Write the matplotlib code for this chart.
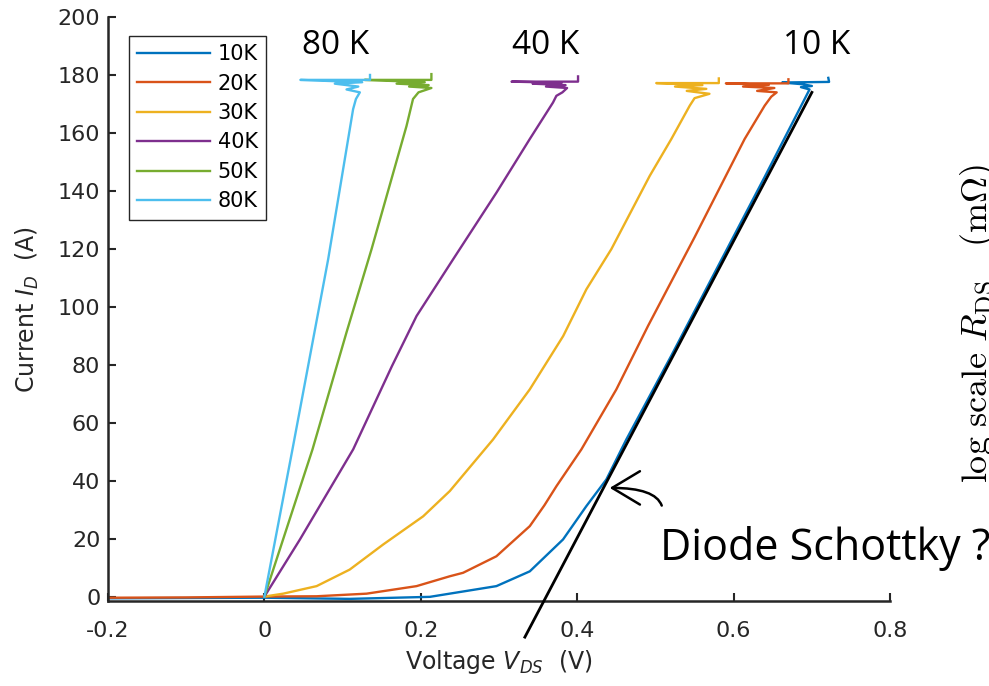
import matplotlib
matplotlib.use("Agg")
import matplotlib.pyplot as plt
from matplotlib.ticker import FormatStrFormatter

v10 = [-0.2, -0.1, 0.0, 0.109, 0.2115, 0.2966, 0.3393, 0.3818, 0.4116, 0.4372, 0.4627, 0.52, 0.58, 0.64,
       0.697, 0.686, 0.70, 0.688, 0.662, 0.722, 0.721]
i10 = [-0.6, -0.5, -0.4, -0.8, -0.1, 3.6, 8.7, 19.7, 31.2, 40.4, 54.2, 83.0, 114.0, 145.0,
       175.0, 175.8, 176.2, 176.8, 177.4, 177.6, 179.0]

v20 = [-0.2, -0.1, 0.0, 0.0667, 0.1306, 0.1945, 0.237, 0.254, 0.2966, 0.3393, 0.358, 0.3734, 0.4053, 0.45,
       0.4905, 0.55, 0.614, 0.6396, 0.648, 0.655, 0.63, 0.652, 0.612, 0.645, 0.59, 0.67, 0.67]
i20 = [-0.4, -0.3, 0.0, 0.1, 1.0, 3.6, 7.0, 8.2, 13.9, 24.3, 31.5, 38.1, 50.8, 71.5,
       93.4, 124.0, 157.9, 169.4, 172.5, 174.0, 174.5, 175.5, 176.0, 176.6, 177.1, 177.1, 178.5]

v30 = [0.0, 0.024, 0.0667, 0.109, 0.152, 0.203, 0.237, 0.2923, 0.3393, 0.382, 0.4116, 0.4436, 0.4927, 0.5203,
       0.5438, 0.55, 0.569, 0.54, 0.565, 0.525, 0.56, 0.501, 0.581, 0.581]
i30 = [0.0, 1.0, 3.6, 9.3, 18.0, 27.7, 36.4, 54.2, 71.5, 89.9, 106.0, 119.9, 145.2, 157.9,
       169.4, 172.0, 173.5, 174.5, 175.2, 176.0, 176.5, 177.2, 177.2, 178.8]

v40 = [0.0, 0.0454, 0.1135, 0.163, 0.1945, 0.2413, 0.2967, 0.3393, 0.369, 0.3733,
       0.381, 0.387, 0.36, 0.385, 0.343, 0.38, 0.316, 0.401, 0.401]
i40 = [0.0, 19.7, 50.8, 79.5, 96.8, 116.4, 139.4, 157.9, 170.5, 172.8,
       174.0, 175.5, 176.0, 176.5, 177.0, 177.3, 177.7, 177.7, 179.5]

v50 = [0.0, 0.0615, 0.105, 0.137, 0.1817, 0.19,
       0.197, 0.2135, 0.185, 0.21, 0.169, 0.205, 0.128, 0.2135, 0.2135]
i50 = [0.0, 50.8, 91.2, 119.9, 162.4, 171.7,
       174.0, 175.5, 176.0, 176.5, 177.0, 177.5, 178.3, 178.3, 180.3]

v80 = [0.0, 0.036, 0.0815, 0.1134, 0.117,
       0.122, 0.105, 0.12, 0.09, 0.125, 0.046, 0.135, 0.135]
i80 = [0.0, 51.0, 116.4, 168.2, 171.7,
       174.0, 175.0, 176.0, 177.0, 177.5, 178.3, 178.3, 180.0]

labels = ["10K", "20K", "30K", "40K", "50K", "80K"]
colors = ["#0072BD", "#D95319", "#EDB120", "#7E2F8E", "#77AC30", "#4DBEEE"]

# linear fit line drawn over the 10 K curve
fit_v = [0.333, 0.700]
fit_i = [-14.0, 174.0]

dark = "#262626"

fig = plt.figure(figsize=(9.89, 6.86), dpi=100)
ax = fig.add_axes([0.1092, 0.1232, 0.7908, 0.852])

curves = [(v10, i10), (v20, i20), (v30, i30), (v40, i40), (v50, i50), (v80, i80)]
for (v, i), lab, c in zip(curves, labels, colors):
    ax.plot(v, i, color=c, lw=1.7, label=lab)

ax.plot(fit_v, fit_i, color="black", lw=2, clip_on=False, zorder=5)

ax.set_xlim(-0.2, 0.8)
ax.set_ylim(-1.7, 200)
ax.set_xticks([-0.2, 0, 0.2, 0.4, 0.6, 0.8])
ax.set_yticks(range(0, 201, 20))
ax.xaxis.set_major_formatter(FormatStrFormatter("%g"))

for s in ["top", "right"]:
    ax.spines[s].set_visible(False)
for s in ["left", "bottom"]:
    ax.spines[s].set_linewidth(1.8)
    ax.spines[s].set_color(dark)
ax.tick_params(direction="in", length=6, width=1.5, colors=dark, labelsize=16)
ax.tick_params(axis="x", pad=14)
ax.tick_params(axis="y", pad=5.5)

ax.set_xlabel(r"Voltage $V_{DS}$  (V)", fontsize=17, color=dark, labelpad=5)
ax.set_ylabel(r"Current $I_D$  (A)", fontsize=17, color=dark, labelpad=12)

leg = ax.legend(loc="upper left", bbox_to_anchor=(0.027, 0.9675), borderaxespad=0,
                fontsize=15, handlelength=3.5, handletextpad=0.35, labelspacing=0.45,
                fancybox=False, framealpha=1, borderpad=0.4)
leg.get_frame().set_edgecolor(dark)
leg.get_frame().set_linewidth(1.0)

# temperature tags
for txt, x in [("80 K", 0.0914), ("40 K", 0.3597), ("10 K", 0.706)]:
    ax.text(x, 190, txt, fontsize=24, family="Open Sans", ha="center", va="center", clip_on=False)

ax.text(0.5054, 16.5, "Diode Schottky ?", fontsize=31, family="Open Sans",
        ha="left", va="center", clip_on=False)
ax.annotate("", xy=(0.4415, 37.5), xytext=(0.508, 31.4),
            arrowprops=dict(arrowstyle="->,head_length=1.0,head_width=0.6", lw=1.8,
                            color="black", connectionstyle="angle3,angleA=110,angleB=0",
                            mutation_scale=20, shrinkA=0, shrinkB=0))

# clipped right-hand label from the neighbouring panel
fig.text(958 / 989, 0.529, r"$\mathrm{log\ scale}\ R_{\mathrm{DS}}\quad(\mathrm{m}\Omega)$",
         rotation=90, fontsize=26, math_fontfamily="cm", ha="left", va="center")

fig.savefig("out.png", dpi=100)
